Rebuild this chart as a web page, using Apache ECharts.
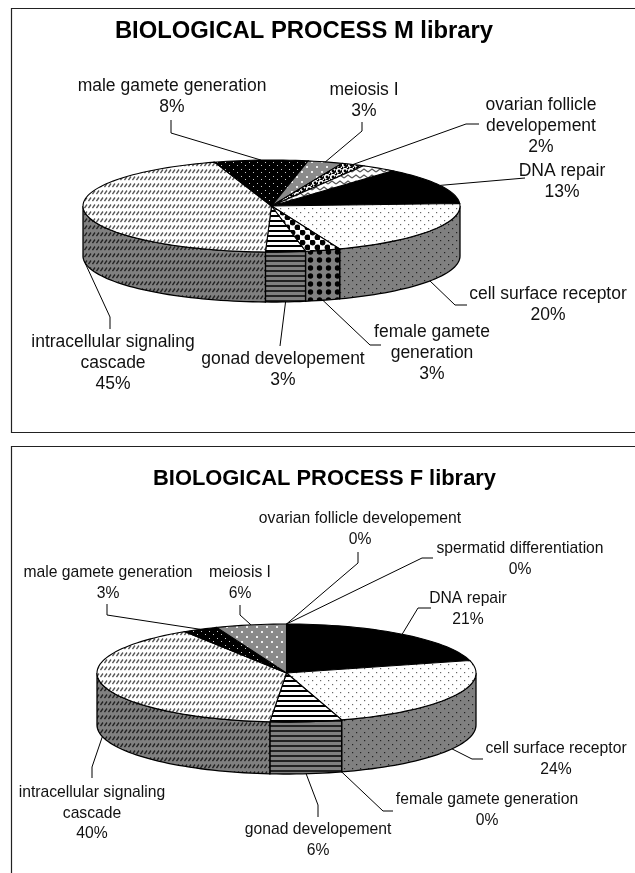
<!DOCTYPE html>
<html><head><meta charset="utf-8">
<style>html,body{margin:0;padding:0;background:#fff}#c{width:635px;height:873px}</style>
<script src="https://cdn.jsdelivr.net/npm/echarts@6/dist/echarts.min.js"></script>
</head><body><div id="c"></div>
<script>
// ---------- data ----------
const categories = ['DNA repair','cell surface receptor','female gamete generation','gonad developement','intracellular signaling cascade','male gamete generation','meiosis I','ovarian follicle developement','spermatid differentiation'];
const valuesM = [13,20,3,3.4,44.6,8,3,2,3];
const valuesF = [20.9,24.4,0,6.1,39.6,3,6,0,0];
const titleM = 'BIOLOGICAL PROCESS M library';
const titleF = 'BIOLOGICAL PROCESS F library';
// label wording per slice (lines above the percentage); null = slice has no label
const labelLinesM = [['DNA repair'],['cell surface receptor'],['female gamete','generation'],['gonad developement'],['intracellular signaling','cascade'],['male gamete generation'],['meiosis I'],['ovarian follicle','developement'],null];
const labelLinesF = [['DNA repair'],['cell surface receptor'],['female gamete generation'],['gonad developement'],['intracellular signaling','cascade'],['male gamete generation'],['meiosis I'],['ovarian follicle developement'],['spermatid differentiation']];

// ---------- layout (pixels) ----------
const FONT = '"Liberation Sans", Arial, sans-serif';
const layoutM = {
  cx:271.5, cy:206, rx:188.5, ry:46, depth:50, start:40, fontSize:17.5, lineGap:21,
  // per slice: label centre x, first line y, leader bend points
  labels:[
    {x:562,y:171,leader:[[525,178]]},
    {x:548,y:294,leader:[[455,305],[467,305]]},
    {x:432,y:332,leader:[[370,345],[381,345]]},
    {x:283,y:359,leader:[[280,346]]},
    {x:113,y:342,leader:[[110,317],[110,329]]},
    {x:172,y:86,leader:[[171,133],[171,120]]},
    {x:364,y:90,leader:[[362,131],[362,122]]},
    {x:541,y:105,leader:[[466,124],[479,124]]},
    null
  ]
};
const layoutF = {
  cx:286.5, cy:673, rx:189.5, ry:49, depth:52, start:0, fontSize:15.7, lineGap:20.5,
  labels:[
    {x:468,y:599,leader:[[418,608],[431,608]]},
    {x:556,y:749,leader:[[472,759],[483,759]]},
    {x:487,y:800,leader:[[383,811],[393,811]]},
    {x:318,y:830,leader:[[318,805],[318,817]]},
    {x:92,y:793,leader:[[92,767],[92,778]]},
    {x:108,y:573,leader:[[107,615],[107,604]]},
    {x:240,y:573,leader:[[240,615],[240,605]]},
    {x:360,y:519,leader:[[358,563],[358,552]]},
    {x:520,y:549,leader:[[422,558],[433,558]]}
  ]
};

// ---------- fill patterns ----------
function tile(w,h,bg,draw){
  const c=document.createElement('canvas');c.width=w;c.height=h;
  const g=c.getContext('2d');g.fillStyle=bg;g.fillRect(0,0,w,h);
  draw(g);return {image:c,repeat:'repeat'};
}
const GRAY='#808080';
const dots=(bg,col,size)=>tile(8,8,bg,g=>{g.fillStyle=col;g.fillRect(0,0,size,size);g.fillRect(4,4,size,size);});
const circles=(bg,w,h,r,stag)=>tile(w,h,bg,g=>{g.fillStyle='#000';
  const pts=stag?[[w/4,h/4],[3*w/4,3*h/4]]:[[w/2,h/2]];
  pts.forEach(p=>{g.beginPath();g.arc(p[0],p[1],r,0,7);g.fill();});});
const stripes=(bg,col,a)=>tile(4,5,bg,g=>{g.fillStyle=col;g.fillRect(0,0,4,a);});
const dashes=(bg,col)=>tile(4,7,bg,g=>{g.strokeStyle=col;g.lineWidth=1.3;g.beginPath();g.moveTo(0.5,5);g.lineTo(3,1.5);g.stroke();});
const lightDiag=(bg)=>tile(6,6,bg,g=>{g.fillStyle='#000';[[0,0],[3,3]].forEach(p=>{g.beginPath();g.arc(p[0],p[1],1.4,0,7);g.fill();});g.beginPath();g.arc(6,0,1.4,0,7);g.arc(0,6,1.4,0,7);g.arc(6,6,1.4,0,7);g.fill();});
const zigzag=(bg)=>tile(8,6,bg,g=>{g.strokeStyle='#555';g.lineWidth=1.2;g.beginPath();g.moveTo(0,4);g.lineTo(4,1);g.lineTo(8,4);g.stroke();});
const meiosisFill=tile(10,10,'#8a8a8a',g=>{g.fillStyle='#eee';g.fillRect(1,1,2,2);g.fillRect(6,6,2,2);});
const maleFill=tile(8,7,'#000',g=>{g.fillStyle='#ccc';g.fillRect(1,1,1,1);g.fillRect(5,4,1,1);});
const topFills=['#000',dots('#fff','#666',1.2),circles('#fff',10,10,2.9,true),stripes('#fff','#000',2),dashes('#fff','#555'),maleFill,meiosisFill,lightDiag('#fff'),zigzag('#fff')];
const sideFills=['#000',dots(GRAY,'#222',1.2),circles(GRAY,9,8,2.7,false),stripes(GRAY,'#222',2),dashes(GRAY,'#222'),tile(8,7,'#000',g=>{g.fillStyle='#888';g.fillRect(1,1,1,1);}),meiosisFill,lightDiag(GRAY),zigzag(GRAY)];

// ---------- custom pie renderer ----------
function makeRender(values,linesBy,L){
  const total=values.reduce((a,b)=>a+b,0);
  const pt=(deg,dy)=>{const t=deg*Math.PI/180;return [L.cx+L.rx*Math.sin(t),L.cy-L.ry*Math.cos(t)+(dy||0)];};
  const arc=(a,b,dy)=>{const n=Math.max(2,Math.ceil(Math.abs(b-a)/2)),out=[];for(let i=0;i<=n;i++)out.push(pt(a+(b-a)*i/n,dy));return out;};
  return function(params,api){
    const i=params.dataIndex,v=api.value(0);
    let sum=0;for(let k=0;k<i;k++)sum+=values[k];
    const a=L.start+sum/total*360,b=a+v/total*360,mid=(a+b)/2;
    const kids=[];
    if(v>0){
      // front wall (visible between 90deg and 270deg)
      [[90,270],[450,630]].forEach(w=>{
        const s=Math.max(a,w[0]),e=Math.min(b,w[1]);
        if(e>s){
          kids.push({type:'polygon',z2:1,shape:{points:arc(s,e,0).concat(arc(e,s,L.depth))},
            style:{fill:sideFills[i],stroke:'#000',lineWidth:1.3}});
        }
      });
      kids.push({type:'polygon',z2:2,shape:{points:[[L.cx,L.cy]].concat(arc(a,b,0))},
        style:{fill:topFills[i],stroke:'#000',lineWidth:1.1}});
    }
    const lab=L.labels[i],lines=linesBy[i];
    if(lab&&lines){
      const m=((mid%360)+360)%360,front=m>90&&m<270;
      const anchor=pt(mid,front?L.depth:0);
      kids.push({type:'polyline',z2:3,shape:{points:[anchor].concat(lab.leader)},style:{fill:null,stroke:'#000',lineWidth:1}});
      lines.concat([Math.round(v)+'%']).forEach((t,k)=>{
        kids.push({type:'text',z2:4,style:{text:t,x:lab.x,y:lab.y+k*L.lineGap,align:'center',verticalAlign:'middle',
          fill:'#111',font:L.fontSize+'px '+FONT}});
      });
    }
    return {type:'group',children:kids};
  };
}
function pieSeries(name,values,lines,L){
  return {type:'custom',name,coordinateSystem:'none',silent:true,animation:false,clip:false,
    data:values.map((v,i)=>({name:categories[i],value:[v]})),
    renderItem:makeRender(values,lines,L)};
}
const frame=(pts)=>({type:'polyline',silent:true,shape:{points:pts},style:{fill:null,stroke:'#222',lineWidth:1.2}});
const chart=echarts.init(document.getElementById('c'),null,{renderer:'canvas'});
chart.setOption({
  animation:false,backgroundColor:'#fff',
  title:[
    {text:titleM,left:299,top:14,textAlign:'center',textStyle:{fontFamily:FONT,fontWeight:'bold',fontSize:23.8,color:'#000'}},
    {text:titleF,left:319.5,top:463,textAlign:'center',textStyle:{fontFamily:FONT,fontWeight:'bold',fontSize:21.9,color:'#000'}}
  ],
  graphic:[
    frame([[635,8.5],[11.5,8.5],[11.5,432.5],[635,432.5]]),
    frame([[635,446.5],[11.5,446.5],[11.5,873]])
  ],
  series:[pieSeries('M library',valuesM,labelLinesM,layoutM),pieSeries('F library',valuesF,labelLinesF,layoutF)]
});
</script></body></html>
